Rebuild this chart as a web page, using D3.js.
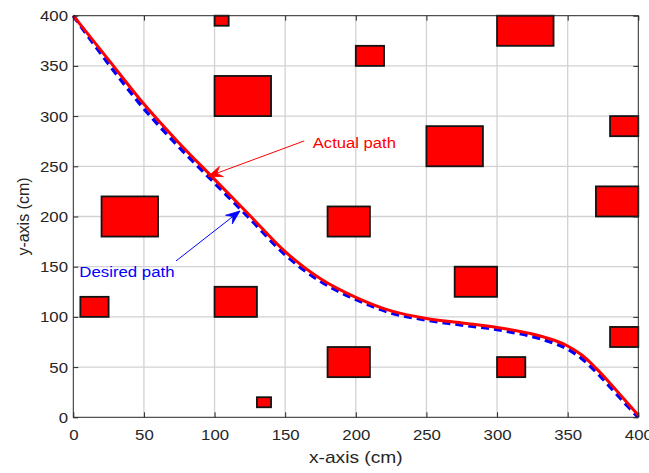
<!DOCTYPE html>
<html><head><meta charset="utf-8">
<script src="https://cdn.jsdelivr.net/npm/d3@7"></script>
<style>body{margin:0;background:#fff}</style>
</head><body><svg id="c" width="649" height="473"></svg>
<script>
const xTicks = [0, 50, 100, 150, 200, 250, 300, 350, 400];
const yTicks = [0, 50, 100, 150, 200, 250, 300, 350, 400];
const pathX     = [0, 25, 50, 75, 100, 125, 150, 175, 200, 225, 250, 275, 300, 325, 340, 350, 360, 370, 380, 390, 400];
const actualY   = [400, 356, 312, 273, 237, 201, 165, 138, 119.5, 106, 98.5, 94, 89.5, 83, 77, 71, 62, 49, 34, 18, 2];
const desiredY  = [400, 352, 307.5, 269, 233.5, 198, 162, 135.5, 117.5, 104, 97, 92, 87.5, 80.5, 74, 68, 58.5, 45.5, 30.5, 15, 0];
const obsX0 = [5, 100, 20, 100, 100, 200, 180, 130, 180, 250, 270, 300, 300, 380, 370, 380];
const obsX1 = [25, 130, 60, 140, 110, 220, 210, 140, 210, 290, 300, 320, 340, 400, 400, 400];
const obsY0 = [100, 100, 180, 300, 390, 350, 180, 10, 40, 250, 120, 40, 370, 280, 200, 70];
const obsY1 = [120, 130, 220, 340, 400, 370, 210, 20, 70, 290, 150, 60, 400, 300, 230, 90];
const xLabel = "x-axis (cm)", yLabel = "y-axis (cm)";
const actualLabel = "Actual path", desiredLabel = "Desired path";

const svg = d3.select("#c");
const L = 73.3, R = 638.3, T = 15.7, B = 417.3;
const x = d3.scaleLinear().domain([0, 400]).range([L, R]);
const y = d3.scaleLinear().domain([0, 400]).range([B, T]);
const FONT = "'Liberation Sans', Arial, Helvetica, sans-serif";
const AX = "#262626";
const SX = 1.2;

// grid
const g = svg.append("g");
g.selectAll(".gx").data(xTicks.slice(1, -1)).enter().append("line")
  .attr("x1", d => x(d)).attr("x2", d => x(d)).attr("y1", T).attr("y2", B)
  .attr("stroke", "#d2d2d2").attr("stroke-width", 1.3);
g.selectAll(".gy").data(yTicks.slice(1, -1)).enter().append("line")
  .attr("y1", d => y(d)).attr("y2", d => y(d)).attr("x1", L).attr("x2", R)
  .attr("stroke", "#d2d2d2").attr("stroke-width", 1.3);

// obstacles
const obs = obsX0.map((d, i) => ({x0: d, x1: obsX1[i], y0: obsY0[i], y1: obsY1[i]}));
svg.append("g").selectAll("rect").data(obs).enter().append("rect")
  .attr("x", d => x(d.x0)).attr("y", d => y(d.y1))
  .attr("width", d => x(d.x1) - x(d.x0)).attr("height", d => y(d.y0) - y(d.y1))
  .attr("fill", "#ff0000").attr("stroke", "#141414").attr("stroke-width", 1.8);

// paths
const line = d3.line().x(d => x(d[0])).y(d => y(d[1])).curve(d3.curveCatmullRom.alpha(0.5));
svg.append("path").datum(pathX.map((d, i) => [d, desiredY[i]]))
  .attr("d", line).attr("fill", "none").attr("stroke", "#0000ff")
  .attr("stroke-width", 3.6).attr("stroke-dasharray", "8,5");
svg.append("path").datum(pathX.map((d, i) => [d, actualY[i]]))
  .attr("d", line).attr("fill", "none").attr("stroke", "#ff0000")
  .attr("stroke-width", 3);

// axes box
svg.append("rect").attr("x", L).attr("y", T).attr("width", R - L).attr("height", B - T)
  .attr("fill", "none").attr("stroke", AX).attr("stroke-width", 1);

function styleAxis(sel) {
  sel.select(".domain").remove();
  sel.selectAll("line").attr("stroke", AX);
  sel.selectAll("text").attr("fill", AX).attr("font-family", FONT).attr("font-size", 14);
}
const xa = svg.append("g").attr("transform", `translate(0,${B})`)
  .call(d3.axisBottom(x).tickValues(xTicks).tickSize(-5).tickSizeOuter(0));
styleAxis(xa);
xa.selectAll("text").attr("y", 22.8).attr("dy", 0).attr("transform", `scale(${SX},1)`);
svg.append("g").attr("transform", `translate(0,${T})`)
  .call(d3.axisTop(x).tickValues(xTicks).tickSize(-5).tickFormat("").tickSizeOuter(0))
  .call(s => { s.select(".domain").remove(); s.selectAll("line").attr("stroke", AX); });
const ya = svg.append("g").attr("transform", `translate(${L},0)`)
  .call(d3.axisLeft(y).tickValues(yTicks).tickSize(-5).tickSizeOuter(0));
styleAxis(ya);
ya.selectAll("text").attr("x", -5.3 / SX).attr("dy", "0.36em").attr("transform", `scale(${SX},1)`);
svg.append("g").attr("transform", `translate(${R},0)`)
  .call(d3.axisRight(y).tickValues(yTicks).tickSize(-5).tickFormat("").tickSizeOuter(0))
  .call(s => { s.select(".domain").remove(); s.selectAll("line").attr("stroke", AX); });

// axis labels
svg.append("text").attr("transform", `translate(${(L + R) / 2},463) scale(${SX},1)`)
  .attr("text-anchor", "middle").attr("font-family", FONT).attr("font-size", 16)
  .attr("fill", AX).text(xLabel);
svg.append("text").attr("transform", `translate(29,${(T + B) / 2}) rotate(-90)`)
  .attr("text-anchor", "middle").attr("font-family", FONT).attr("font-size", 16)
  .attr("fill", AX).text(yLabel);

// annotations
function arrow(x0, y0, x1, y1, color) {
  svg.append("line").attr("x1", x0).attr("y1", y0).attr("x2", x1).attr("y2", y1)
    .attr("stroke", color).attr("stroke-width", 1);
  const a = Math.atan2(y1 - y0, x1 - x0);
  const ux = Math.cos(a), uy = Math.sin(a), px = -uy, py = ux;
  const Lh = 14, W = 5.5, N = 9;
  const pts = [
    [x1, y1],
    [x1 - ux * Lh + px * W, y1 - uy * Lh + py * W],
    [x1 - ux * N, y1 - uy * N],
    [x1 - ux * Lh - px * W, y1 - uy * Lh - py * W]
  ];
  svg.append("path").attr("d", "M" + pts.map(p => p.join(",")).join("L") + "Z")
    .attr("fill", color).attr("stroke", color).attr("stroke-width", 0.8);
}
arrow(x(163.5), y(275.3), x(95.6), y(240), "#ff0000");
arrow(x(72.7), y(155.7), x(118), y(205.5), "#0000ff");

svg.append("text").attr("transform", `translate(${x(169.5)},${y(268.5)}) scale(1.11,1)`)
  .attr("font-family", FONT).attr("font-size", 15).attr("fill", "#ff0000").text(actualLabel);
svg.append("text").attr("transform", `translate(${x(4.3)},${y(139.4)}) scale(1.12,1)`)
  .attr("font-family", FONT).attr("font-size", 15).attr("fill", "#0000ff").text(desiredLabel);
</script></body></html>
